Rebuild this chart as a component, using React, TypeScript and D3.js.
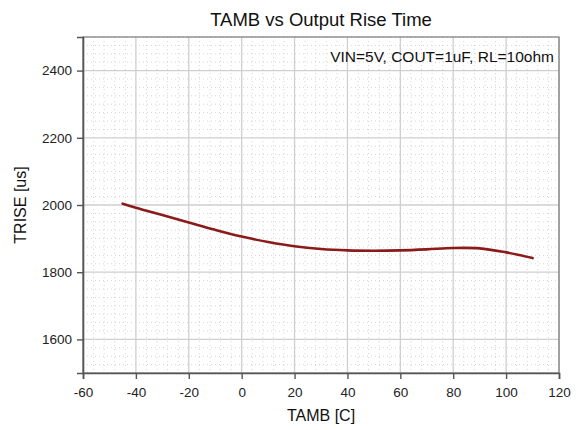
import { useEffect, useRef } from "react";
import * as d3 from "d3";

const tamb = [-45, -40, -30, -20, -10, 0, 10, 20, 30, 40, 50, 60, 70, 80, 90, 100, 105, 110];
const trise = [2004, 1992, 1970, 1948, 1926, 1906, 1890, 1877, 1869, 1865, 1864, 1865, 1868, 1872, 1871, 1859, 1851, 1842];
const xTicks = [-60, -40, -20, 0, 20, 40, 60, 80, 100, 120];
const yTicks = [1600, 1800, 2000, 2200, 2400];

const W = 579;
const H = 430;
const m = { l: 83, r: 20, t: 37, b: 57 };

const App = () => {
  const svgRef = useRef<SVGSVGElement>(null);

  useEffect(() => {
    const svg = d3.select(svgRef.current);
    svg.selectAll("*").remove();

    const x = d3.scaleLinear().domain([-60, 120]).range([m.l, W - m.r]);
    const y = d3.scaleLinear().domain([1500, 2500]).range([H - m.b, m.t]);

    svg.append("rect").attr("width", W).attr("height", H).attr("fill", "white");

    // minor grid (dotted)
    const minorX = d3.range(-60, 120.01, 4).filter((v) => v % 20 !== 0);
    const minorY = d3.range(1500, 2500.01, 25).filter((v) => v % 200 !== 0);
    svg
      .append("g")
      .selectAll("line")
      .data(minorX)
      .join("line")
      .attr("x1", (d) => x(d))
      .attr("x2", (d) => x(d))
      .attr("y1", m.t)
      .attr("y2", H - m.b)
      .attr("stroke", "#d6d6d6")
      .attr("stroke-dasharray", "1,3");
    svg
      .append("g")
      .selectAll("line")
      .data(minorY)
      .join("line")
      .attr("x1", m.l)
      .attr("x2", W - m.r)
      .attr("y1", (d) => y(d))
      .attr("y2", (d) => y(d))
      .attr("stroke", "#d6d6d6")
      .attr("stroke-dasharray", "1,3");

    // major grid
    svg
      .append("g")
      .selectAll("line")
      .data(xTicks)
      .join("line")
      .attr("x1", (d) => x(d))
      .attr("x2", (d) => x(d))
      .attr("y1", m.t)
      .attr("y2", H - m.b)
      .attr("stroke", "#cfcfcf")
      .attr("stroke-width", 1.3);
    svg
      .append("g")
      .selectAll("line")
      .data(yTicks)
      .join("line")
      .attr("x1", m.l)
      .attr("x2", W - m.r)
      .attr("y1", (d) => y(d))
      .attr("y2", (d) => y(d))
      .attr("stroke", "#cfcfcf")
      .attr("stroke-width", 1.3);

    // border
    svg
      .append("rect")
      .attr("x", m.l)
      .attr("y", m.t)
      .attr("width", W - m.r - m.l)
      .attr("height", H - m.b - m.t)
      .attr("fill", "none")
      .attr("stroke", "#777")
      .attr("stroke-width", 1.2);

    const font = "Liberation Sans, Arial, sans-serif";

    // axes
    const xAxis = svg
      .append("g")
      .attr("transform", `translate(0,${H - m.b})`)
      .call(
        d3.axisBottom(x).tickValues(xTicks).tickSize(6).tickPadding(8).tickFormat((d) => String(d))
      );
    const yAxis = svg
      .append("g")
      .attr("transform", `translate(${m.l},0)`)
      .call(
        d3.axisLeft(y).tickValues(yTicks).tickSize(6).tickPadding(5).tickFormat((d) => String(d))
      );
    [xAxis, yAxis].forEach((g) => {
      g.select(".domain").attr("stroke", "#555").attr("stroke-width", 1.6);
      g.selectAll(".tick line").attr("stroke", "#555").attr("stroke-width", 1.4);
      g.selectAll(".tick text")
        .attr("fill", "#222")
        .style("font-family", font)
        .style("font-size", "13.5px");
    });

    // curve
    const line = d3
      .line<number>()
      .x((d, i) => x(tamb[i]))
      .y((d) => y(d))
      .curve(d3.curveCatmullRom.alpha(0.5));
    svg
      .append("path")
      .attr("d", line(trise))
      .attr("fill", "none")
      .attr("stroke", "#8b1a1a")
      .attr("stroke-width", 2.6)
      .attr("stroke-linecap", "round");

    svg
      .append("text")
      .attr("x", (m.l + W - m.r) / 2)
      .attr("y", 26)
      .attr("text-anchor", "middle")
      .style("font-family", font)
      .style("font-size", "18.5px")
      .attr("fill", "#111")
      .text("TAMB vs Output Rise Time");
    svg
      .append("text")
      .attr("x", W - m.r - 5)
      .attr("y", 62)
      .attr("text-anchor", "end")
      .style("font-family", font)
      .style("font-size", "15.5px")
      .attr("fill", "#111")
      .text("VIN=5V, COUT=1uF, RL=10ohm");
    svg
      .append("text")
      .attr("transform", `translate(26,${(m.t + H - m.b) / 2}) rotate(-90)`)
      .attr("text-anchor", "middle")
      .style("font-family", font)
      .style("font-size", "16px")
      .attr("fill", "#111")
      .text("TRISE [us]");
    svg
      .append("text")
      .attr("x", (m.l + W - m.r) / 2)
      .attr("y", 421)
      .attr("text-anchor", "middle")
      .style("font-family", font)
      .style("font-size", "16px")
      .attr("fill", "#111")
      .text("TAMB [C]");
  }, []);

  return (
    <svg
      ref={svgRef}
      width={W}
      height={H}
      style={{ position: "absolute", left: 0, top: 0 }}
    ></svg>
  );
};

export default App;
